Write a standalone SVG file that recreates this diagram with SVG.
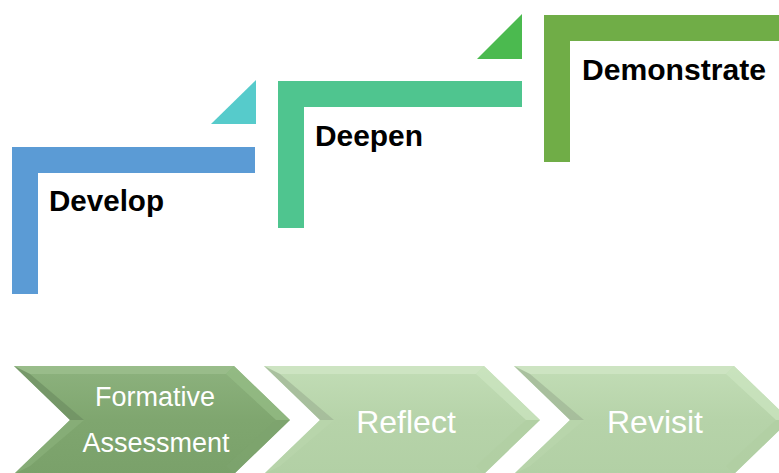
<svg xmlns="http://www.w3.org/2000/svg" width="779" height="473" viewBox="0 0 779 473">
<defs>
<style>
.lbl{font-family:"Liberation Sans",Arial,sans-serif;font-weight:bold;font-size:29px;fill:#000}
.ct{font-family:"Liberation Sans",Arial,sans-serif;fill:#fff;text-anchor:middle}
</style>
<linearGradient id="gDark" x1="0" y1="0" x2="0" y2="1">
<stop offset="0" stop-color="#8DB27E"/>
<stop offset="0.5" stop-color="#7FA66F"/>
<stop offset="1" stop-color="#7AA16A"/>
</linearGradient>
<linearGradient id="gLight" x1="0" y1="0" x2="0" y2="1">
<stop offset="0" stop-color="#C2DDB6"/>
<stop offset="0.5" stop-color="#B6D3A9"/>
<stop offset="1" stop-color="#B2D0A5"/>
</linearGradient>
</defs>
<rect width="779" height="473" fill="#fff"/>

<g id="develop">
<polygon points="211,124 256,124 256,80" fill="#56CBCB"/>
<path d="M12,147H255V173H38V294H12Z" fill="#5B9BD5"/>
<text class="lbl" x="49" y="211" textLength="115" lengthAdjust="spacingAndGlyphs">Develop</text>
</g>

<g id="deepen">
<polygon points="477,59 522,59 522,14" fill="#4BBA4F"/>
<path d="M278,81H522V107H304V228H278Z" fill="#4FC58F"/>
<text class="lbl" x="315" y="146" textLength="108" lengthAdjust="spacingAndGlyphs">Deepen</text>
</g>

<g id="demonstrate">
<path d="M544,15H779V41H570V162H544Z" fill="#70AD47"/>
<text class="lbl" x="582" y="80" textLength="184" lengthAdjust="spacingAndGlyphs">Demonstrate</text>
</g>

<g id="formative">
<polygon points="14,366 234,366 290,420 234,474 14,474 70,420" fill="url(#gDark)"/>
<polygon points="14,366 234,366 226,374 30,374" fill="#9CBF8D" opacity="0.8"/>
<polygon points="14,366 30,374 84,420 70,420" fill="#6E8F62" opacity="0.7"/>
<polygon points="70,420 84,420 30,466 14,474" fill="#8AB07A" opacity="0.7"/>
<polygon points="234,366 290,420 276,420 226,374" fill="#96BD86" opacity="0.7"/>
<polygon points="276,420 290,420 234,474 226,466" fill="#7DA46D" opacity="0.7"/>
<text class="ct" x="155" y="406" font-size="27">Formative</text>
<text class="ct" x="156" y="452" font-size="27">Assessment</text>
</g>

<g id="reflect">
<polygon points="264,366 484,366 540,420 484,474 264,474 320,420" fill="url(#gLight)"/>
<polygon points="264,366 484,366 476,374 280,374" fill="#CFE6C5" opacity="0.8"/>
<polygon points="264,366 280,374 334,420 320,420" fill="#9FB596" opacity="0.7"/>
<polygon points="320,420 334,420 280,466 264,474" fill="#B9D6AD" opacity="0.7"/>
<polygon points="484,366 540,420 526,420 476,374" fill="#CCE6C0" opacity="0.7"/>
<polygon points="526,420 540,420 484,474 476,466" fill="#B0CFA3" opacity="0.7"/>
<text class="ct" x="406" y="433" font-size="32">Reflect</text>
</g>

<g id="revisit">
<polygon points="514,366 734,366 790,420 734,474 514,474 570,420" fill="url(#gLight)"/>
<polygon points="514,366 734,366 726,374 530,374" fill="#CFE6C5" opacity="0.8"/>
<polygon points="514,366 530,374 584,420 570,420" fill="#9FB596" opacity="0.7"/>
<polygon points="570,420 584,420 530,466 514,474" fill="#B9D6AD" opacity="0.7"/>
<polygon points="734,366 790,420 776,420 726,374" fill="#CCE6C0" opacity="0.7"/>
<polygon points="776,420 790,420 734,474 726,466" fill="#B0CFA3" opacity="0.7"/>
<text class="ct" x="655" y="433" font-size="32">Revisit</text>
</g>

<g id="connectors"></g>
</svg>
